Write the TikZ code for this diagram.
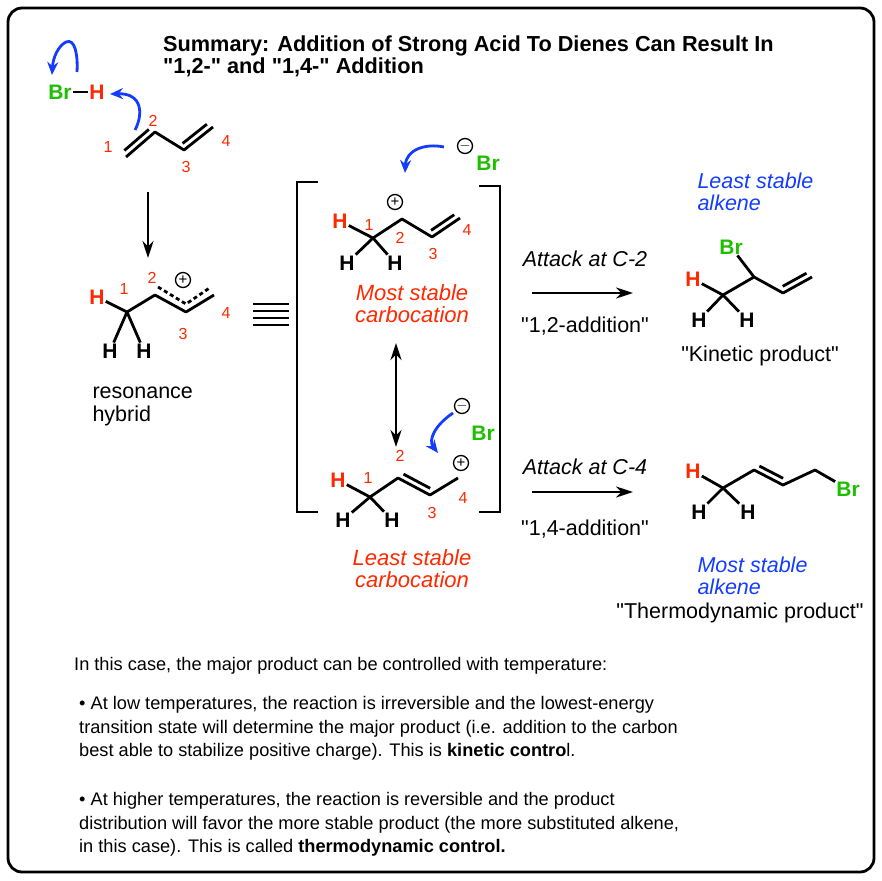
\documentclass[tikz,border=0pt]{standalone}
\usepackage{fontspec}
\setmainfont{Liberation Sans}
\usetikzlibrary{arrows.meta,calc}
\definecolor{acid}{RGB}{255,40,0}
\definecolor{brg}{RGB}{30,190,0}
\definecolor{arrb}{RGB}{20,60,255}
\tikzset{
 bond/.style={line width=2.8pt},
 atom/.style={font=\fontsize{21}{21}\selectfont\bfseries, inner sep=1pt},
 red/.style={text=acid},
 grn/.style={text=brg},
 num/.style={font=\fontsize{16}{16}\selectfont, text=acid, inner sep=0pt},
 plus/.style={circle,draw,line width=1.3pt,minimum size=15pt,inner sep=0pt,font=\fontsize{15}{15}\selectfont},
 body/.style={font=\fontsize{18.2}{20}\selectfont, anchor=west, inner sep=0pt},
 itred/.style={font=\fontsize{22}{22}\selectfont\itshape, text=acid, align=center},
 itblue/.style={font=\fontsize{21.5}{22}\selectfont\itshape, text=arrb, align=left},
 lab/.style={font=\fontsize{21.5}{23}\selectfont, align=center},
 curly/.style={arrb, line width=2.8pt, -{Stealth[length=13pt,width=11pt]}},
 rxn/.style={line width=2.5pt, -{Stealth[length=17pt,width=11pt]}},
}
\newcommand{\dbl}[3]{\draw[bond,shorten <=3pt,shorten >=3pt] ($(#1)!6pt!#3:(#2)$) -- ($(#2)!6pt!-#3:(#1)$);}
\newcommand{\qq}{\textquotedbl}
\begin{document}
\begin{tikzpicture}[x=1pt,y=-1pt]
\useasboundingbox (0,0) rectangle (882,880);
\draw[line width=2.8pt,rounded corners=14pt] (8,8) rectangle (874,872);
% title
\node[anchor=west,font=\fontsize{21.7}{22}\selectfont\bfseries,align=left,inner sep=0] (title) at (163,56) {Summary: Addition of Strong Acid To Dienes Can Result In\\\qq1,2-\qq{} and \qq1,4-\qq{} Addition};
% HBr + butadiene
\node[atom,grn] (br0) at (60,92) {Br};
\node[atom,red] (h0) at (97,92) {H};
\draw[bond] (br0) -- (h0);
\coordinate (a1) at (126,157); \coordinate (a2) at (155,132); \coordinate (a3) at (184,150); \coordinate (a4) at (213,127);
\draw[bond,line join=round] (a1)--(a2)--(a3)--(a4);
\dbl{a1}{a2}{90} \dbl{a3}{a4}{90}
\node[num] at (108,147) {1}; \node[num] at (153,121) {2}; \node[num] at (186,167) {3}; \node[num] at (226,141) {4};
\coordinate (c0) at (77,72);
\draw[curly] (c0) .. controls (78,55) and (75,38) .. (66,42) .. controls (58,46) and (53,58) .. (52,75);
\coordinate (c1) at (135,130);
\draw[curly] (c1) .. controls (143,115) and (143,93) .. (110,94);
\coordinate (d0) at (148,192); \coordinate (d1) at (148,258);
\draw[rxn] (d0) -- (d1);
% resonance hybrid
\node[atom,red] (hh) at (97,297) {H};
\node[atom] (hh1) at (110,351) {H}; \node[atom] (hh2) at (144,351) {H};
\coordinate (b1) at (127,312); \coordinate (b2) at (155,295); \coordinate (b3) at (186,312); \coordinate (b4) at (214,295);
\draw[bond,line join=round] (hh) -- (b1) -- (b2) -- (b3) -- (b4);
\draw[bond] (b1) -- (hh1); \draw[bond] (b1) -- (hh2);
\draw[line width=2.8pt,dash pattern=on 4pt off 3pt] ($(b2)+(3,-8)$) -- ($(b3)+(0,-8)$) -- ($(b4)+(-3,-8)$);
\node[plus] at (183,280) {+};
\node[num] at (124,289) {1}; \node[num] at (152,278) {2}; \node[num] at (183,334) {3}; \node[num] at (226,313) {4};
\node[lab,align=left,anchor=west] (rh) at (89,406) {resonance\\hybrid};
% equiv
\foreach \yy in {304,311,318,325} \draw[line width=2.4pt] (253,\yy) -- (289,\yy);
% brackets
\draw[line width=2.8pt] (318,182) -- (297,182) -- (297,512) -- (318,512);
\draw[line width=2.8pt] (479,186) -- (500,186) -- (500,512) -- (479,512);
% top cation
\node[atom,red] (th) at (340,221) {H};
\node[atom] (th1) at (347,263) {H}; \node[atom] (th2) at (395,263) {H};
\coordinate (t1) at (373,238); \coordinate (t2) at (402,219); \coordinate (t3) at (432,237); \coordinate (t4) at (460,218);
\draw[bond,line join=round] (th) -- (t1) -- (t2) -- (t3) -- (t4);
\draw[bond] (t1) -- (th1); \draw[bond] (t1) -- (th2);
\dbl{t3}{t4}{90}
\node[plus] at (395,202) {+};
\node[num] at (369,225) {1}; \node[num] at (400,238) {2}; \node[num] at (433,254) {3}; \node[num] at (467,230) {4};
\node[plus] (m1) at (465,146) {$-$};
\node[atom,grn] (brt) at (488,163) {Br};
\coordinate (f0) at (444,147);
\draw[curly] (f0) .. controls (425,143) and (406,150) .. (405,173);
\node[itred] (ms) at (412,304) {Most stable\\carbocation};
\coordinate (v1) at (396,343); \coordinate (v2) at (396,447);
\draw[line width=2.5pt,{Stealth[length=17pt,width=11pt]}-{Stealth[length=17pt,width=11pt]}] (v1) -- (v2);
% bottom cation
\node[atom,red] (bh) at (338,480) {H};
\node[atom] (bh1) at (343,520) {H}; \node[atom] (bh2) at (392,520) {H};
\coordinate (u1) at (370,497); \coordinate (u2) at (398,478); \coordinate (u3) at (430,495); \coordinate (u4) at (458,478);
\draw[bond,line join=round] (bh) -- (u1) -- (u2) -- (u3) -- (u4);
\draw[bond] (u1) -- (bh1); \draw[bond] (u1) -- (bh2);
\dbl{u2}{u3}{90}
\node[plus] at (461,463) {+};
\node[num] at (368,478) {1}; \node[num] at (400,456) {2}; \node[num] at (432,513) {3}; \node[num] at (463,498) {4};
\node[plus] (m2) at (462,406) {$-$};
\node[atom,grn] (brb) at (483,433) {Br};
\coordinate (e0) at (453,413);
\draw[curly] (e0) .. controls (435,425) and (428,440) .. (438,453);
\node[itred] (ls) at (412,569) {Least stable\\carbocation};
% reaction arrows
\coordinate (r1) at (532,293); \coordinate (r2) at (633,293);
\draw[rxn] (r1) -- (r2);
\node[lab,font=\fontsize{21.5}{23}\selectfont\itshape] at (585,259) {Attack at C-2};
\node[lab] at (585,326) {\qq1,2-addition\qq};
\coordinate (r3) at (532,492); \coordinate (r4) at (633,492);
\draw[rxn] (r3) -- (r4);
\node[lab,font=\fontsize{21.5}{23}\selectfont\itshape] at (585,467) {Attack at C-4};
\node[lab] at (585,529) {\qq1,4-addition\qq};
% kinetic product
\node[itblue,anchor=west] at (694,192) {Least stable\\alkene};
\node[atom,grn] (kbr) at (731,247) {Br};
\node[atom,red] (kh) at (693,279) {H};
\node[atom] (kh1) at (699,320) {H}; \node[atom] (kh2) at (747,320) {H};
\coordinate (k1) at (723,295); \coordinate (k2) at (754,277); \coordinate (k3) at (783,293); \coordinate (k4) at (812,277);
\draw[bond,line join=round] (kh) -- (k1) -- (k2) -- (k3) -- (k4);
\draw[bond] (k1) -- (kh1); \draw[bond] (k1) -- (kh2); \draw[bond] (k2) -- (kbr);
\dbl{k3}{k4}{90}
\node[lab] at (760,356) {\qq Kinetic product\qq};
% thermodynamic product
\node[atom,red] (zh) at (693,471) {H};
\node[atom] (zh1) at (699,512) {H}; \node[atom] (zh2) at (748,512) {H};
\node[atom,grn] (zbr) at (848,489) {Br};
\coordinate (z1) at (723,488); \coordinate (z2) at (754,470); \coordinate (z3) at (783,485); \coordinate (z4) at (815,470);
\draw[bond,line join=round] (zh) -- (z1) -- (z2) -- (z3) -- (z4) -- (zbr);
\draw[bond] (z1) -- (zh1); \draw[bond] (z1) -- (zh2);
\dbl{z2}{z3}{90}
\node[itblue,anchor=west] at (694,576) {Most stable\\alkene};
\node[lab] at (740,613) {\qq Thermodynamic product\qq};
% bottom text
\node[body] (t0) at (74,666) {In this case, the major product can be controlled with temperature:};
\node[body] (t1x) at (79,705) {\textbullet{} At low temperatures, the reaction is irreversible and the lowest-energy};
\node[body] (t2x) at (79,729) {transition state will determine the major product (i.e. addition to the carbon};
\node[body] (t3x) at (79,752) {best able to stabilize positive charge). This is \textbf{kinetic contro}l.};
\node[body] (t4x) at (79,801) {\textbullet{} At higher temperatures, the reaction is reversible and the product};
\node[body] (t5x) at (79,825) {distribution will favor the more stable product (the more substituted alkene,};
\node[body] (t6x) at (79,848) {in this case). This is called \textbf{thermodynamic control.}};
\end{tikzpicture}
\end{document}
